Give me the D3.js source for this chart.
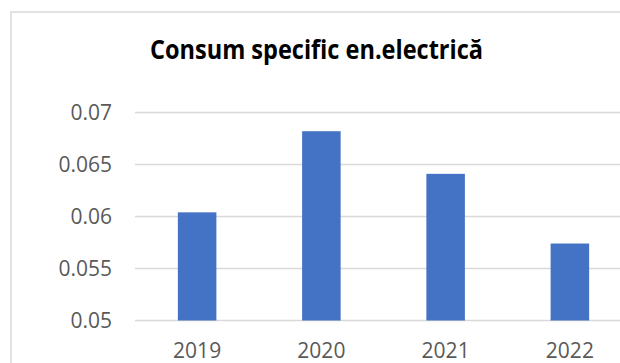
<!DOCTYPE html>
<html>
<head>
<meta charset="utf-8">
<script src="https://cdn.jsdelivr.net/npm/d3@7"></script>
<style>
	body { margin: 0; background: #fff; overflow: hidden; }
	svg { display: block; }
	.tick text { font-family: 'Open Sans', sans-serif; font-size: 21px; fill: #595959; }
</style>
</head>
<body>
<div id="chart"></div>
<script>
var years = ['2019', '2020', '2021', '2022'];
var consum = [0.0604, 0.0682, 0.0641, 0.0574];
var yTicks = [0.05, 0.055, 0.06, 0.065, 0.07];
var chartTitle = 'Consum specific en.electrică';

var width = 620,
	height = 363;

var plotLeft = 135,
	plotRight = 632,
	plotTop = 112.5,
	plotBottom = 320.5;

var svg = d3.select('#chart').append('svg')
			.attr('width', width)
			.attr('height', height);

// chart border (partly cut off on the right and bottom)
svg.append('rect')
	.attr('x', 11)
	.attr('y', 12)
	.attr('width', 640)
	.attr('height', 380)
	.attr('fill', '#fff')
	.attr('stroke', '#d9d9d9')
	.attr('stroke-width', 1.5);

var xScale = d3.scaleBand()
				.domain(years)
				.range([plotLeft, plotRight])
				.paddingInner(0.69)
				.paddingOuter(0.345);

var yScale = d3.scaleLinear()
				.domain([0.05, 0.07])
				.range([plotBottom, plotTop]);

// gridlines
svg.append('g')
	.selectAll('line').data(yTicks).enter()
	.append('line')
		.attr('x1', plotLeft)
		.attr('x2', plotRight)
		.attr('y1', function(d) { return yScale(d); })
		.attr('y2', function(d) { return yScale(d); })
		.attr('stroke', '#d9d9d9')
		.attr('stroke-width', 1.5);

// bars
svg.append('g')
	.selectAll('rect').data(consum).enter()
	.append('rect')
		.attr('x', function(d, i) { return xScale(years[i]); })
		.attr('width', xScale.bandwidth())
		.attr('y', function(d) { return yScale(d); })
		.attr('height', function(d) { return yScale(0.05) - yScale(d); })
		.attr('fill', '#4472c4');

var yAxis = d3.axisLeft(yScale)
				.tickValues(yTicks)
				.tickFormat(function(d) { return String(+d.toFixed(3)); })
				.tickSize(0)
				.tickPadding(23);

var xAxis = d3.axisBottom(xScale)
				.tickSize(0)
				.tickPadding(23);

svg.append('g')
	.attr('class', 'yAxis')
	.attr('transform', 'translate(' + plotLeft + ',0)')
	.call(yAxis)
	.call(function(g) { g.select('.domain').remove(); });

svg.append('g')
	.attr('class', 'xAxis')
	.attr('transform', 'translate(0,' + plotBottom + ')')
	.call(xAxis)
	.call(function(g) { g.select('.domain').remove(); });

// title
svg.append('text')
	.attr('x', 316.5)
	.attr('y', 58.5)
	.attr('text-anchor', 'middle')
	.attr('textLength', 333)
	.attr('lengthAdjust', 'spacingAndGlyphs')
	.style('font-family', "'Open Sans', sans-serif")
	.style('font-weight', 'bold')
	.style('font-size', '27px')
	.style('fill', '#000')
	.text(chartTitle);
</script>
</body>
</html>
